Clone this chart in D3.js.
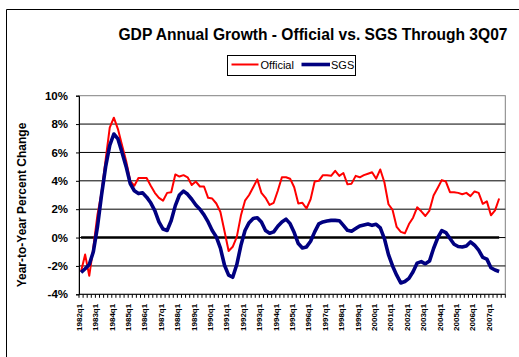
<!DOCTYPE html>
<html><head><meta charset="utf-8">
<script src="https://cdn.jsdelivr.net/npm/d3@7"></script>
<style>body{margin:0;background:#fff}svg{display:block;font-family:"Liberation Sans",Arial,sans-serif}</style>
</head><body><svg id="c" width="519" height="357"></svg>
<script>
const years = d3.range(1982, 2008);
const quarters = ["q1","q2","q3","q4"];
const categories = years.flatMap(y => quarters.map(q => y + q));
const yTicks = [-4,-2,0,2,4,6,8,10];
const official = [-2.4,-1.2,-2.7,-0.7,1.6,3.2,5.5,7.75,8.45,7.65,6.5,5.4,4.0,3.65,4.2,4.2,4.2,3.65,3.15,2.8,2.6,3.15,3.2,4.45,4.3,4.4,4.25,3.7,3.95,3.6,3.6,2.8,2.75,2.4,1.8,0.45,-0.95,-0.65,0.05,1.55,2.6,3.0,3.55,4.1,3.15,2.8,2.3,2.45,3.3,4.25,4.25,4.15,3.55,2.4,2.45,2.05,2.7,3.95,4.0,4.4,4.4,4.35,4.7,4.35,4.55,3.75,3.8,4.35,4.25,4.4,4.5,4.6,4.15,4.8,3.9,2.35,1.95,0.75,0.4,0.3,0.95,1.4,2.13,1.85,1.52,1.9,2.97,3.5,4.05,3.95,3.2,3.2,3.15,3.05,3.15,2.92,3.25,3.15,2.38,2.55,1.57,1.92,2.75];
const sgs = [-2.46,-2.2,-1.9,-1.0,0.75,3.0,5.0,6.5,7.3,6.95,6.0,5.0,3.8,3.3,3.1,3.15,2.85,2.45,1.9,1.1,0.6,0.5,1.2,2.25,3.0,3.27,3.05,2.7,2.3,2.0,1.6,1.1,0.5,0.05,-0.75,-1.95,-2.65,-2.8,-1.9,-0.55,0.5,1.05,1.35,1.4,1.1,0.5,0.3,0.4,0.8,1.1,1.3,0.98,0.35,-0.42,-0.73,-0.66,-0.26,0.4,0.96,1.1,1.17,1.21,1.21,1.19,0.86,0.51,0.44,0.63,0.82,0.89,0.96,0.86,0.93,0.68,-0.07,-1.2,-2.0,-2.65,-3.2,-3.1,-2.88,-2.41,-1.8,-1.7,-1.85,-1.66,-0.77,-0.03,0.49,0.35,-0.07,-0.47,-0.63,-0.66,-0.59,-0.31,-0.54,-0.89,-1.4,-1.52,-2.13,-2.29,-2.39];
const zeroLine = official.map(() => 0);

const svg = d3.select("#c");
const L = 79, R = 505.3, T = 95.7, B = 294.3;
const x = d3.scaleBand().domain(categories).range([L, R]);
const y = d3.scaleLinear().domain([-4, 10]).range([B, T]);
const cx = i => x(categories[i]) + x.bandwidth() / 2;

// outer border (only top and left visible in the reference crop)
svg.append("path").attr("d", "M6.5,357 V9.5 H519")
  .attr("fill", "none").attr("stroke", "#000").attr("stroke-width", 1);

// plot border (gray)
svg.append("rect").attr("x", L).attr("y", T).attr("width", R - L).attr("height", B - T)
  .attr("fill", "none").attr("stroke", "#808080").attr("stroke-width", 1);

// gridlines
svg.append("g").selectAll("line").data(yTicks.filter(t => t > -4 && t < 10)).join("line")
  .attr("x1", L).attr("x2", R).attr("y1", d => y(d)).attr("y2", d => y(d))
  .attr("stroke", "#000").attr("stroke-width", 1);

// y axis
const ya = svg.append("g").attr("transform", `translate(${L},0)`)
  .call(d3.axisLeft(y).tickValues(yTicks).tickSize(3).tickPadding(8).tickFormat(d => d + "%"));
ya.selectAll("path,line").attr("stroke", "#000");
ya.selectAll("text").attr("font-size", "11.5px").attr("font-weight", "bold")
  .attr("font-family", '"Liberation Sans",Arial,sans-serif').attr("fill", "#000");

// x axis line + ticks
svg.append("line").attr("x1", L).attr("x2", R).attr("y1", B).attr("y2", B).attr("stroke", "#000");
const tickXs = categories.map(c => x(c)).concat([x.range()[1]]);
svg.append("g").selectAll("line").data(tickXs).join("line")
  .attr("x1", d => d).attr("x2", d => d).attr("y1", B).attr("y2", B + 3.5).attr("stroke", "#000");

// x labels
svg.append("g").selectAll("text").data(categories.filter(c => c.endsWith("q1"))).join("text")
  .attr("transform", c => `translate(${x(c) + x.bandwidth() / 2 - 2},${B + 9.5}) rotate(-90)`)
  .attr("text-anchor", "end").attr("dy", "0.35em")
  .attr("font-size", "8px").attr("font-weight", "bold").text(c => c);

// zero series
const line = d3.line().x((d, i) => cx(i)).y(d => y(d));
svg.append("path").datum(zeroLine).attr("d", line).attr("fill", "none")
  .attr("stroke", "#000").attr("stroke-width", 2.6);
svg.append("path").datum(official).attr("d", line).attr("fill", "none")
  .attr("stroke", "#ff0000").attr("stroke-width", 2).attr("stroke-linejoin", "round");
svg.append("path").datum(sgs).attr("d", line).attr("fill", "none")
  .attr("stroke", "#000080").attr("stroke-width", 3.6).attr("stroke-linejoin", "round");

// y title
svg.append("text").attr("transform", "translate(26,205) rotate(-90)").attr("text-anchor", "middle")
  .attr("font-size", "12px").attr("font-weight", "bold").text("Year-to-Year Percent Change");

// title
svg.append("text").attr("x", 313).attr("y", 40).attr("text-anchor", "middle")
  .attr("font-size", "15.6px").attr("font-weight", "bold").text("GDP Annual Growth - Official vs. SGS Through 3Q07");

// legend
const lg = svg.append("g");
lg.append("rect").attr("x", 227.5).attr("y", 55.5).attr("width", 128).attr("height", 20)
  .attr("fill", "#fff").attr("stroke", "#000");
lg.append("line").attr("x1", 231.5).attr("x2", 258.5).attr("y1", 64.5).attr("y2", 64.5)
  .attr("stroke", "#ff0000").attr("stroke-width", 2);
lg.append("text").attr("x", 260.5).attr("y", 68.5).attr("font-size", "11px").text("Official");
lg.append("line").attr("x1", 301.5).attr("x2", 330).attr("y1", 64.5).attr("y2", 64.5)
  .attr("stroke", "#000080").attr("stroke-width", 3.6);
lg.append("text").attr("x", 331).attr("y", 68.5).attr("font-size", "11px").text("SGS");
</script></body></html>
